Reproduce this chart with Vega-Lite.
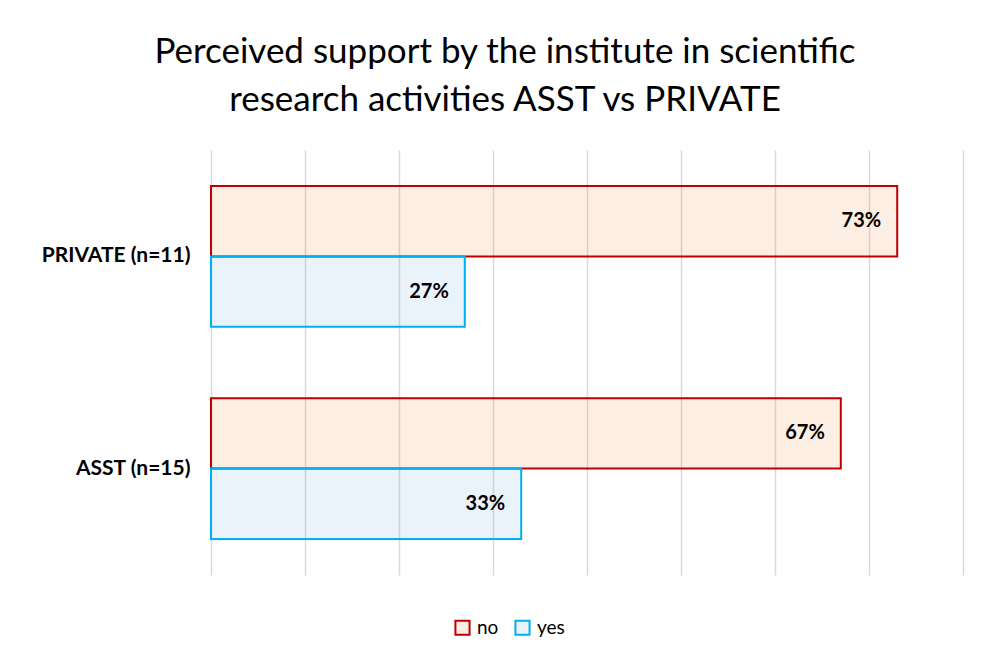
{
  "$schema": "https://vega.github.io/schema/vega-lite/v6.json",
  "width": 752,
  "height": 425,
  "autosize": {"type": "none"},
  "padding": {"left": 211, "top": 150, "right": 35, "bottom": 89},
  "background": "white",
  "config": {"view": {"stroke": null}},
  "title": {
    "text": ["Perceived support by the institute in scientific", "research activities ASST vs PRIVATE"],
    "font": "Lato",
    "fontSize": 35,
    "fontWeight": "normal",
    "color": "#000000",
    "lineHeight": 48,
    "anchor": "middle",
    "dx": -82,
    "offset": 32
  },
  "data": {
    "values": [
      {"group": "PRIVATE (n=11)", "series": "no", "value": 0.73},
      {"group": "PRIVATE (n=11)", "series": "yes", "value": 0.27},
      {"group": "ASST (n=15)", "series": "no", "value": 0.67},
      {"group": "ASST (n=15)", "series": "yes", "value": 0.33}
    ]
  },
  "encoding": {
    "y": {
      "field": "group",
      "type": "nominal",
      "sort": ["PRIVATE (n=11)", "ASST (n=15)"],
      "scale": {"paddingInner": 0.336, "paddingOuter": 0.17},
      "axis": {
        "title": null,
        "domain": false,
        "ticks": false,
        "grid": false,
        "labelFont": "Lato",
        "labelFontSize": 21,
        "labelFontWeight": "bold",
        "labelColor": "#000000",
        "labelPadding": 21
      }
    },
    "x": {
      "field": "value",
      "type": "quantitative",
      "scale": {"domain": [0, 0.8], "nice": false},
      "axis": {
        "title": null,
        "labels": false,
        "ticks": false,
        "domain": false,
        "values": [0, 0.1, 0.2, 0.3, 0.4, 0.5, 0.6, 0.7, 0.8],
        "grid": true,
        "gridColor": "#D9D9D9",
        "gridWidth": 1.5
      }
    },
    "yOffset": {"field": "series", "type": "nominal", "sort": ["no", "yes"]}
  },
  "layer": [
    {
      "mark": {"type": "bar", "fillOpacity": 0.13, "strokeWidth": 2},
      "encoding": {
        "fill": {
          "field": "series",
          "type": "nominal",
          "scale": {"domain": ["no", "yes"], "range": ["#ED7D31", "#5B9BD5"]},
          "legend": {
            "title": null,
            "orient": "none",
            "direction": "horizontal",
            "legendX": 242,
            "legendY": 468,
            "symbolType": "square",
            "symbolSize": 200,
            "symbolStrokeWidth": 2,
            "labelFont": "Lato",
            "labelFontSize": 19,
            "labelColor": "#000000",
            "columnPadding": 12,
            "labelOffset": 5,
            "encode": {"symbols": {"update": {"fillOpacity": {"value": 0.13}}}}
          }
        },
        "stroke": {
          "field": "series",
          "type": "nominal",
          "scale": {"domain": ["no", "yes"], "range": ["#C00000", "#00B0F0"]},
          "legend": {
            "title": null,
            "orient": "none",
            "direction": "horizontal",
            "legendX": 242,
            "legendY": 468,
            "symbolType": "square",
            "symbolSize": 200,
            "symbolStrokeWidth": 2,
            "labelFont": "Lato",
            "labelFontSize": 19,
            "labelColor": "#000000",
            "columnPadding": 12,
            "labelOffset": 5,
            "encode": {"symbols": {"update": {"fillOpacity": {"value": 0.13}}}}
          }
        }
      }
    },
    {
      "mark": {"type": "text", "align": "right", "baseline": "middle", "dx": -16, "font": "Lato", "fontSize": 20, "fontWeight": "bold", "color": "#000000"},
      "encoding": {
        "text": {"field": "value", "type": "quantitative", "format": ".0%"}
      }
    }
  ]
}
